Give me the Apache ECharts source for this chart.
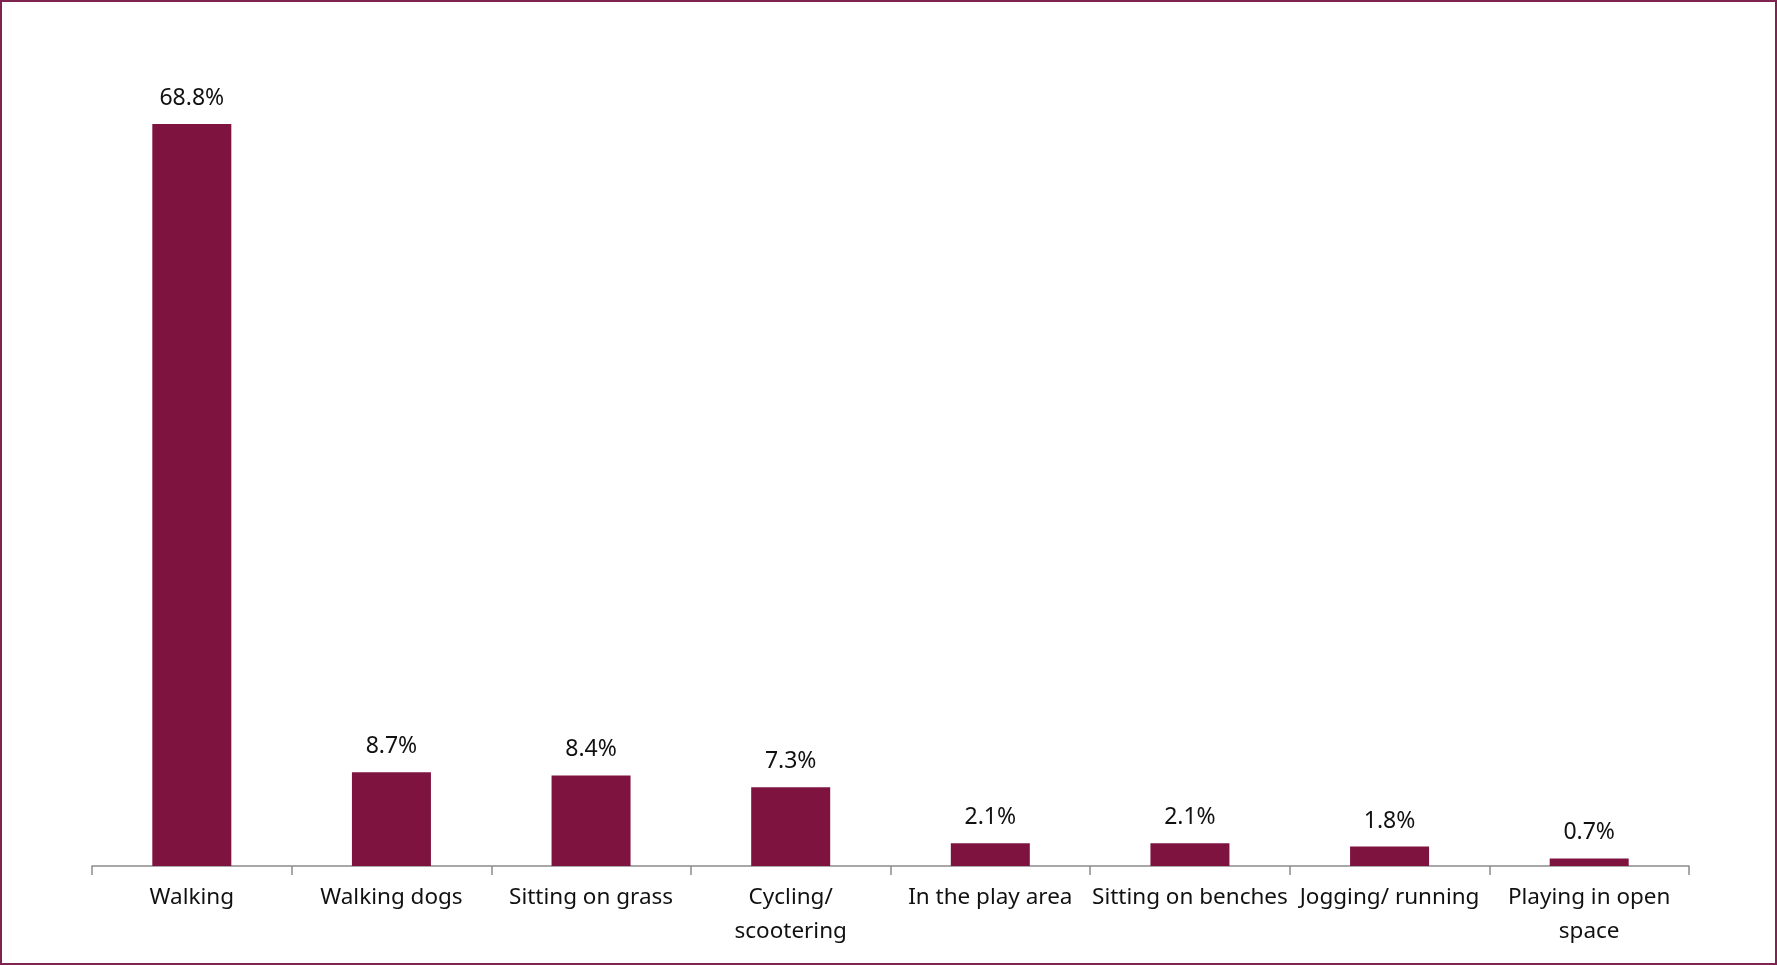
<!DOCTYPE html>
<html>
<head>
<meta charset="utf-8">
<script src="https://cdn.jsdelivr.net/npm/echarts@6/dist/echarts.min.js"></script>
<style>
html,body{margin:0;padding:0;background:#fff;}
#c{width:1777px;height:965px;box-sizing:border-box;border:2px solid #7f2350;}
</style>
</head>
<body>
<div id="c"></div>
<script>
const categories = ['Walking','Walking dogs','Sitting on grass','Cycling/\nscootering','In the play area','Sitting on benches','Jogging/ running','Playing in open\nspace'];
const values = [68.8, 8.7, 8.4, 7.3, 2.1, 2.1, 1.8, 0.7];

const chart = echarts.init(document.getElementById('c'));
chart.setOption({
  animation: false,
  grid: {left: 90, right: 86, top: 109, bottom: 97},
  xAxis: {
    type: 'category',
    data: categories,
    axisLine: {show: true, lineStyle: {color: '#8c8c8c', width: 1.5}},
    axisTick: {show: true, alignWithLabel: false, length: 9, lineStyle: {color: '#8c8c8c', width: 1.5}},
    axisLabel: {
      color: '#111', fontFamily: 'Noto Sans', fontSize: 22.5, margin: 15,
      lineHeight: 34, interval: 0
    }
  },
  yAxis: {type: 'value', min: 0, max: 70, show: false, splitLine: {show: false}},
  series: [{
    type: 'bar',
    data: values,
    barWidth: 79,
    itemStyle: {color: '#7e1340'},
    label: {
      show: true, position: 'top', distance: 14,
      color: '#111', fontFamily: 'Noto Sans', fontSize: 23,
      formatter: p => p.value.toFixed(1) + '%'
    }
  }]
});
</script>
</body>
</html>
